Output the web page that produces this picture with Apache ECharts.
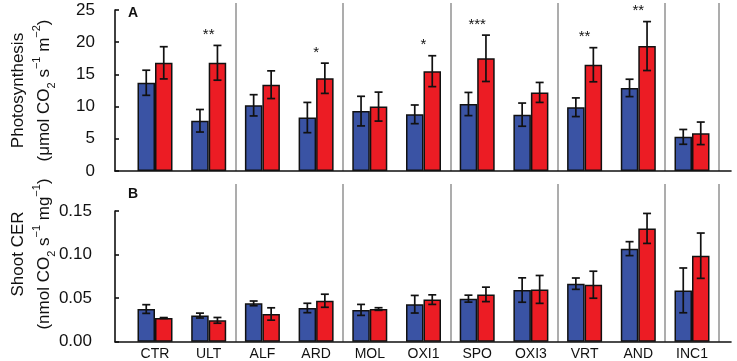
<!DOCTYPE html>
<html><head><meta charset="utf-8">
<script src="https://cdn.jsdelivr.net/npm/echarts@6/dist/echarts.min.js"></script>
<style>html,body{margin:0;padding:0;background:#fff}#c{width:737px;height:361px}</style>
</head><body><div id="c"></div>
<script>
const categories = ['CTR','ULT','ALF','ARD','MOL','OXI1','SPO','OXI3','VRT','AND','INC1'];
const photoBlue    = [13.7, 7.8, 10.2, 8.3, 9.3, 8.8, 10.4, 8.75, 9.9, 12.9, 5.3];
const photoBlueErr = [1.95, 1.75, 1.65, 2.35, 2.3, 1.45, 1.8, 1.8, 1.45, 1.35, 1.15];
const photoRed     = [16.8, 16.8, 13.4, 14.4, 10.0, 15.5, 17.5, 12.2, 16.5, 19.4, 5.85];
const photoRedErr  = [2.5, 2.7, 2.15, 2.35, 2.25, 2.4, 3.6, 1.55, 2.65, 3.8, 1.75];
const photoSig     = ['', '**', '', '*', '', '*', '***', '', '**', '**', ''];
const cerBlue      = [0.0375, 0.030, 0.044, 0.0387, 0.0365, 0.043, 0.0494, 0.0593, 0.0666, 0.1068, 0.0589];
const cerBlueErr   = [0.005, 0.0028, 0.0027, 0.0054, 0.0063, 0.0101, 0.004, 0.014, 0.0065, 0.008, 0.0257];
const cerRed       = [0.0272, 0.0245, 0.0318, 0.047, 0.0375, 0.0483, 0.0543, 0.060, 0.0654, 0.130, 0.0987];
const cerRedErr    = [0.0005, 0.0033, 0.0071, 0.0075, 0.0015, 0.0055, 0.0083, 0.016, 0.0155, 0.0172, 0.026];
const photoTicks   = [0, 5, 10, 15, 20, 25];
const cerTicks     = [0, 0.05, 0.10, 0.15];

const FONT = "'Liberation Sans', Arial, sans-serif";
const BLUE = '#3A53A4', RED = '#EC1C24';
const BW = 17.5;

function errRender(dx) {
  return function (params, api) {
    const i = api.value(0), m = api.value(1), e = api.value(2);
    const t = api.coord([i, m + e]), b = api.coord([i, m - e]);
    const x = t[0] + dx, w = 4;
    const st = { stroke: '#111', lineWidth: 1.7 };
    return { type: 'group', children: [
      { type: 'line', shape: { x1: x, y1: t[1], x2: x, y2: b[1] }, style: st },
      { type: 'line', shape: { x1: x - w, y1: t[1], x2: x + w, y2: t[1] }, style: st },
      { type: 'line', shape: { x1: x - w, y1: b[1], x2: x + w, y2: b[1] }, style: st }
    ]};
  };
}
function sigRender(params, api) {
  const i = api.value(0), top = api.value(1);
  const txt = photoSig[i];
  if (!txt) return null;
  const p = api.coord([i, top]);
  return { type: 'text', style: { x: p[0], y: p[1] - 3, text: txt, fill: '#111',
    font: '15px ' + FONT, textAlign: 'center', textVerticalAlign: 'bottom' } };
}
const rich = {
  t: { fontSize: 17, lineHeight: 26, fontFamily: FONT, color: '#111' },
  sup: { fontSize: 11, lineHeight: 14, verticalAlign: 'top', fontFamily: FONT, color: '#111' },
  sub: { fontSize: 11, lineHeight: 14, verticalAlign: 'bottom', fontFamily: FONT, color: '#111' }
};
const nameA1 = 'Photosynthesis';
const nameA2 = '{t|(\u03bcmol CO}{sub|2}{t| s}{sup|\u22121}{t| m}{sup|\u22122}{t|)}';
const nameB1 = 'Shoot CER';
const nameB2 = '{t|(nmol CO}{sub|2}{t| s}{sup|\u22121}{t| mg}{sup|\u22121}{t|)}';
const line1Style = { fontSize: 17, lineHeight: 20, fontFamily: FONT, color: '#111' };
const line2Style = { rich: rich, fontSize: 17, fontFamily: FONT, color: '#111' };

const axisLineStyle = { color: '#111', width: 1.6 };
function frameX(gi) {
  return { gridIndex: gi, type: 'value', min: 0, max: 1, axisLine: { show: true, onZero: false, lineStyle: axisLineStyle },
    axisTick: { show: false }, axisLabel: { show: false }, splitLine: { show: false } };
}
function barX(gi, showLabels) {
  return { gridIndex: gi, type: 'category', data: categories, axisLine: { show: false }, axisTick: { show: false },
    axisLabel: { show: showLabels, interval: 0, fontSize: 14, fontFamily: FONT, color: '#111', margin: 5 },
    splitLine: { show: true, interval: (idx) => idx > 0 && idx % 2 === 0, lineStyle: { color: '#999', width: 1.6 } } };
}
function hiddenY(gi, max) {
  return { gridIndex: gi, type: 'value', min: 0, max: max, show: false };
}
function nameAxis(gi, name, gap, style) {
  return { gridIndex: gi, type: 'value', position: 'left', offset: 0, min: 0, max: 1, axisLine: { show: false }, axisTick: { show: false },
    axisLabel: { show: false }, splitLine: { show: false },
    name: name, nameLocation: 'middle', nameRotate: 90, nameGap: gap, nameTextStyle: style };
}

const option = {
  animation: false,
  title: [
    { text: 'A', left: 123, top: 1, textStyle: { fontSize: 14, fontWeight: 'bold', fontFamily: FONT, color: '#111' } },
    { text: 'B', left: 123, top: 182, textStyle: { fontSize: 14, fontWeight: 'bold', fontFamily: FONT, color: '#111' } }
  ],
  grid: [
    { left: 115, right: 6, top: 10, height: 161 },
    { left: 128.15, width: 590.7, top: 3, height: 168 },
    { left: 115, right: 6, top: 211, height: 130.7 },
    { left: 128.15, width: 590.7, top: 184, height: 157.7 },
    { left: 115, right: 6, top: 174, height: 160 },
    { left: 115, right: 6, top: 10, height: 161 }
  ],
  xAxis: [frameX(0), barX(1, false), frameX(2), barX(3, true),
    { gridIndex: 4, type: 'value', show: false }, { gridIndex: 5, type: 'value', show: false }],
  yAxis: [
    { gridIndex: 0, type: 'value', min: photoTicks[0], max: photoTicks[photoTicks.length - 1], interval: photoTicks[1] - photoTicks[0],
      axisLine: { show: true, lineStyle: axisLineStyle }, axisTick: { show: true, inside: true, length: 4, lineStyle: axisLineStyle },
      axisLabel: { fontSize: 17, fontFamily: FONT, color: '#111', margin: 20 }, splitLine: { show: false } },
    hiddenY(1, 25 * 168 / 161),
    { gridIndex: 2, type: 'value', min: cerTicks[0], max: cerTicks[cerTicks.length - 1], interval: cerTicks[1] - cerTicks[0],
      axisLine: { show: true, lineStyle: axisLineStyle }, axisTick: { show: true, inside: true, length: 4, lineStyle: axisLineStyle },
      axisLabel: { fontSize: 17, fontFamily: FONT, color: '#111', margin: 23, formatter: v => v.toFixed(2) }, splitLine: { show: false } },
    hiddenY(3, 0.15 * 157.7 / 130.7),
    nameAxis(4, nameB1, 101, line1Style),
    nameAxis(5, nameA1, 101, line1Style),
    nameAxis(4, nameB2, 72, line2Style),
    nameAxis(5, nameA2, 72, line2Style)
  ],
  series: [
    { type: 'bar', xAxisIndex: 1, yAxisIndex: 1, data: photoBlue, barWidth: BW, barGap: '0%',
      itemStyle: { color: BLUE, borderColor: '#111', borderWidth: 1.5 } },
    { type: 'bar', xAxisIndex: 1, yAxisIndex: 1, data: photoRed, barWidth: BW, barGap: '0%',
      itemStyle: { color: RED, borderColor: '#111', borderWidth: 1.5 } },
    { type: 'custom', xAxisIndex: 1, yAxisIndex: 1, renderItem: errRender(-BW / 2), encode: { x: 0, y: 1 },
      data: photoBlue.map((v, i) => [i, v, photoBlueErr[i]]), z: 5 },
    { type: 'custom', xAxisIndex: 1, yAxisIndex: 1, renderItem: errRender(BW / 2), encode: { x: 0, y: 1 },
      data: photoRed.map((v, i) => [i, v, photoRedErr[i]]), z: 5 },
    { type: 'custom', xAxisIndex: 1, yAxisIndex: 1, renderItem: sigRender, encode: { x: 0, y: 1 },
      data: photoRed.map((v, i) => [i, v + photoRedErr[i]]), z: 5 },
    { type: 'bar', xAxisIndex: 3, yAxisIndex: 3, data: cerBlue, barWidth: BW, barGap: '0%',
      itemStyle: { color: BLUE, borderColor: '#111', borderWidth: 1.5 } },
    { type: 'bar', xAxisIndex: 3, yAxisIndex: 3, data: cerRed, barWidth: BW, barGap: '0%',
      itemStyle: { color: RED, borderColor: '#111', borderWidth: 1.5 } },
    { type: 'custom', xAxisIndex: 3, yAxisIndex: 3, renderItem: errRender(-BW / 2), encode: { x: 0, y: 1 },
      data: cerBlue.map((v, i) => [i, v, cerBlueErr[i]]), z: 5 },
    { type: 'custom', xAxisIndex: 3, yAxisIndex: 3, renderItem: errRender(BW / 2), encode: { x: 0, y: 1 },
      data: cerRed.map((v, i) => [i, v, cerRedErr[i]]), z: 5 }
  ]
};
const chart = echarts.init(document.getElementById('c'), null, { renderer: 'canvas' });
chart.setOption(option);
</script></body></html>
